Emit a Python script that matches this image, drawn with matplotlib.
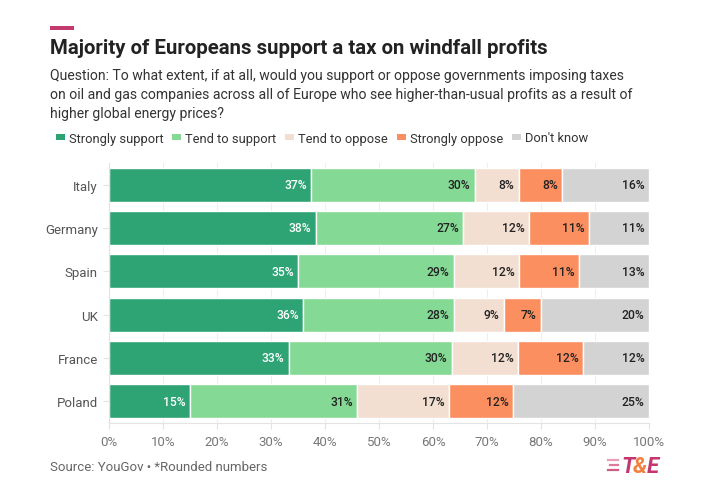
import matplotlib
matplotlib.use("Agg")
import matplotlib.pyplot as plt
from matplotlib.patches import Patch, Rectangle
from matplotlib.lines import Line2D

plt.rcParams['font.family'] = ['Roboto', 'DejaVu Sans']

countries = ["Italy", "Germany", "Spain", "UK", "France", "Poland"]
categories = ["Strongly support", "Tend to support", "Tend to oppose", "Strongly oppose", "Don't know"]
strongly_support = [37.4, 38.3, 35.0, 36.0, 33.3, 15.0]
tend_support = [30.3, 27.3, 28.9, 27.9, 30.2, 31.0]
tend_oppose = [8.2, 12.2, 12.1, 9.2, 12.2, 16.9]
strongly_oppose = [8.0, 11.0, 11.0, 6.9, 12.1, 12.0]
dont_know = [16.1, 11.2, 13.0, 20.0, 12.2, 25.1]
xticks = [0, 10, 20, 30, 40, 50, 60, 70, 80, 90, 100]

series = [strongly_support, tend_support, tend_oppose, strongly_oppose, dont_know]
colors = ["#2ea374", "#84d994", "#f2dfd1", "#fc8f5f", "#d3d3d3"]
text_colors = ["white", "#222222", "#222222", "#222222", "#222222"]

fig = plt.figure(figsize=(7.2, 4.89), dpi=100)
ax = fig.add_axes([109/720, 1 - 424/489, 540/720, 260/489])

y = list(range(len(countries)))
left = [0.0] * len(countries)
for vals, col, tcol in zip(series, colors, text_colors):
    ax.barh(y, vals, left=left, height=0.79, color=col, edgecolor="white", linewidth=1.0, zorder=2)
    for i, v in enumerate(vals):
        ax.text(left[i] + v - 0.8, y[i], f"{round(v)}%", ha="right", va="center",
                color=tcol, fontsize=8.7, fontweight="medium", zorder=3)
    left = [l + v for l, v in zip(left, vals)]

ax.set_ylim(len(countries) - 0.5, -0.5)
ax.set_xlim(0, 100)
ax.set_yticks(y)
ax.set_yticklabels(countries, fontsize=9.5, color="#555555")
ax.set_xticks(xticks)
ax.set_xticklabels([f"{t}%" for t in xticks], fontsize=9.5, color="#777777")
ax.tick_params(axis="y", length=4, color="#e3e3e3", pad=4)
ax.tick_params(axis="x", length=4, color="#e3e3e3", pad=5)
for s in ["top", "right"]:
    ax.spines[s].set_visible(False)
ax.spines["left"].set_color("#e3e3e3")
ax.spines["bottom"].set_color("#e3e3e3")
ax.grid(axis="x", color="#eeeeee", linewidth=0.8, zorder=0)
ax.set_axisbelow(True)

# header accent bar
fig.add_artist(Rectangle((50/720, 1 - 31/489), 24/720, 4/489, transform=fig.transFigure,
                         color="#c23a6e", lw=0))

fig.text(50/720, 1 - 48/489, "Majority of Europeans support a tax on windfall profits",
         fontsize=14.7, fontweight="bold", color="#222222", va="center", ha="left")
fig.text(50/720, 1 - 95/489,
         "Question: To what extent, if at all, would you support or oppose governments imposing taxes\n"
         "on oil and gas companies across all of Europe who see higher-than-usual profits as a result of\n"
         "higher global energy prices?",
         fontsize=10.1, color="#333333", va="center", ha="left", linespacing=1.42)

handles = [Patch(facecolor=c, edgecolor="none") for c in colors]
fig.legend(handles, categories, loc="center left", bbox_to_anchor=(44/720, 1 - 139/489),
           ncol=5, frameon=False, fontsize=9.3, handlelength=0.7, handleheight=0.4,
           handletextpad=0.3, columnspacing=0.7, labelcolor="#333333")

fig.text(50/720, 1 - 468/489, "Source: YouGov \u2022 *Rounded numbers",
         fontsize=9.5, color="#666666", va="center", ha="left")

# logo
for k, (w, c) in enumerate([(10, "#e8a0b8"), (8, "#dd7a9c"), (10, "#d05c86")]):
    yy = 1 - (461 + k * 5) / 489
    fig.add_artist(Line2D([(608 + (10 - w)) / 720, 618/720], [yy, yy], transform=fig.transFigure,
                          color=c, lw=1.6))
fig.text(621/720, 1 - 467/489, "T", fontsize=16, fontweight="bold", style="italic",
         color="#c43670", va="center", ha="left")
fig.text(633/720, 1 - 467/489, "&", fontsize=16, fontweight="bold", style="italic",
         color="#f2803f", va="center", ha="left")
fig.text(647/720, 1 - 467/489, "E", fontsize=16, fontweight="bold", style="italic",
         color="#c43670", va="center", ha="left")

fig.savefig("out.png", dpi=100, facecolor="white")
